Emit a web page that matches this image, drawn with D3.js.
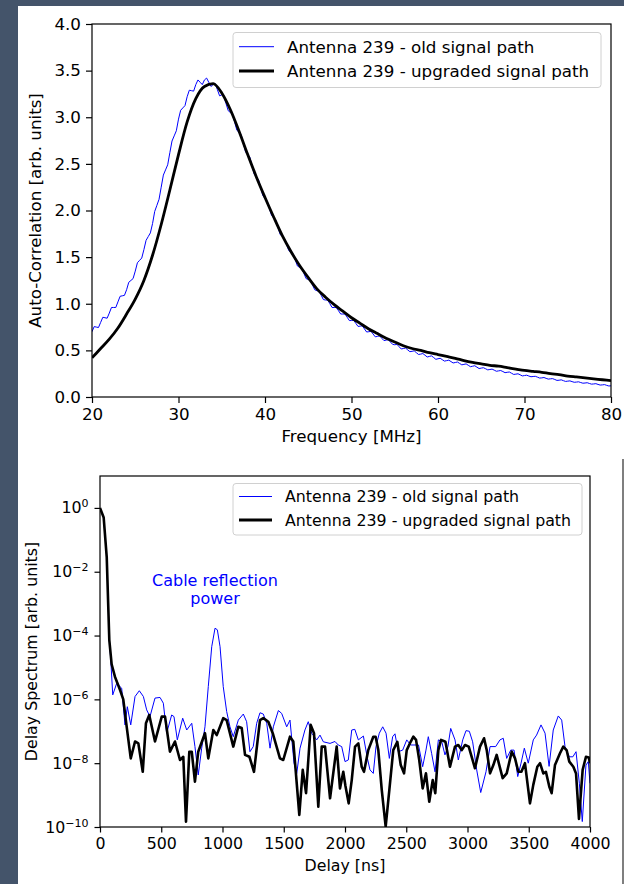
<!DOCTYPE html>
<html>
<head>
<meta charset="utf-8">
<script src="https://cdn.jsdelivr.net/npm/d3@7"></script>
<style>
  body { margin: 0; background: #44546a; }
  svg { display: block; font-family: "DejaVu Sans", sans-serif; }
</style>
</head>
<body>
<svg id="fig" width="624" height="884"></svg>
<script>
// ---- data: auto-correlation vs frequency ----
const seriesNames = ['Antenna 239 - old signal path', 'Antenna 239 - upgraded signal path'];
const freqTicks = [20, 30, 40, 50, 60, 70, 80];
const autoTicks = [0, 0.5, 1, 1.5, 2, 2.5, 3, 3.5, 4];

// old path sampled every 0.25 MHz from 20 to 80 MHz (ripples from the cable reflection)
const oldAuto = [
  0.70, 0.755, 0.75, 0.745, 0.80, 0.855, 0.85, 0.845, 0.90, 0.96, 0.96, 0.96,
  1.02, 1.08, 1.085, 1.09, 1.15, 1.23, 1.25, 1.27, 1.35, 1.44, 1.465, 1.49,
  1.58, 1.68, 1.72, 1.76, 1.86, 1.99, 2.055, 2.12, 2.25, 2.38, 2.435, 2.49,
  2.62, 2.745, 2.80, 2.855, 2.98, 3.075, 3.10, 3.125, 3.22, 3.29, 3.285, 3.28,
  3.35, 3.40, 3.375, 3.35, 3.40, 3.42, 3.375, 3.33, 3.35, 3.36, 3.295, 3.23,
  3.24, 3.22, 3.145, 3.07, 3.05, 3.03, 2.945, 2.86, 2.84, 2.81, 2.72, 2.63,
  2.60, 2.57, 2.48, 2.39, 2.36, 2.33, 2.245, 2.16, 2.13, 2.10, 2.025, 1.95,
  1.92, 1.895, 1.82, 1.745, 1.72, 1.70, 1.635, 1.57, 1.55, 1.535, 1.47, 1.405,
  1.39, 1.38, 1.325, 1.27, 1.26, 1.25, 1.20, 1.15, 1.14, 1.135, 1.09, 1.045,
  1.04, 1.04, 1.00, 0.96, 0.96, 0.96, 0.925, 0.89, 0.89, 0.89, 0.855, 0.82,
  0.82, 0.823, 0.79, 0.757, 0.76, 0.763, 0.73, 0.697, 0.70, 0.705, 0.675, 0.645,
  0.65, 0.655, 0.63, 0.605, 0.61, 0.615, 0.59, 0.565, 0.56, 0.565, 0.54, 0.515,
  0.52, 0.525, 0.505, 0.486, 0.49, 0.495, 0.475, 0.456, 0.46, 0.466, 0.448, 0.429,
  0.435, 0.441, 0.423, 0.404, 0.41, 0.415, 0.40, 0.385, 0.39, 0.395, 0.38, 0.365,
  0.37, 0.375, 0.36, 0.345, 0.35, 0.355, 0.34, 0.325, 0.33, 0.335, 0.32, 0.305,
  0.31, 0.314, 0.303, 0.291, 0.295, 0.299, 0.288, 0.276, 0.28, 0.284, 0.273, 0.261,
  0.265, 0.268, 0.255, 0.242, 0.245, 0.249, 0.238, 0.226, 0.23, 0.234, 0.225, 0.217,
  0.22, 0.222, 0.213, 0.203, 0.205, 0.209, 0.20, 0.192, 0.195, 0.197, 0.188, 0.178,
  0.18, 0.184, 0.175, 0.167, 0.17, 0.173, 0.165, 0.158, 0.16, 0.163, 0.155, 0.148,
  0.15, 0.153, 0.145, 0.138, 0.14, 0.143, 0.135, 0.128, 0.13, 0.133, 0.125, 0.118,
  0.12
];
const oldFreq = d3.range(0, oldAuto.length).map(i => 20 + i * 0.25);

// upgraded path sampled every 1 MHz from 20 to 80 MHz
const newAuto = [
  0.42, 0.52, 0.62, 0.74, 0.89, 1.05, 1.25, 1.52, 1.85, 2.22,
  2.60, 2.95, 3.20, 3.33, 3.36, 3.26, 3.08, 2.85, 2.60, 2.36,
  2.14, 1.93, 1.73, 1.56, 1.41, 1.28, 1.16, 1.07, 0.99, 0.92,
  0.85, 0.79, 0.73, 0.68, 0.63, 0.59, 0.55, 0.52, 0.50, 0.475,
  0.455, 0.435, 0.415, 0.39, 0.37, 0.355, 0.34, 0.33, 0.315, 0.30,
  0.285, 0.275, 0.265, 0.25, 0.24, 0.225, 0.215, 0.205, 0.195, 0.185,
  0.175
];
const newFreq = d3.range(0, newAuto.length).map(i => 20 + i);

// ---- data: delay spectrum, [delay ns, log10 power] ----
const delayTicks = [0, 500, 1000, 1500, 2000, 2500, 3000, 3500, 4000];
const powerTicks = [1e0, 1e-2, 1e-4, 1e-6, 1e-8, 1e-10];

const oldDelay = [
  [0, 0], [30, -0.3], [55, -1.55], [76, -4.14], [87, -4.7], [104, -5.86], [136, -5.5],
  [150, -5.55], [177, -5.65], [204, -6.8], [223, -6.23], [251, -6.8], [286, -5.91],
  [321, -5.73], [354, -5.91], [381, -6.33], [408, -6.54], [449, -5.96], [490, -5.94],
  [517, -6.12], [544, -7.06], [585, -6.49], [604, -6.54], [631, -7.27], [675, -6.59],
  [708, -6.96], [749, -6.75], [775, -7.48], [802, -8.37], [830, -7.53], [857, -6.86],
  [884, -5.6], [912, -4.35], [939, -3.77], [958, -3.82], [980, -4.35], [1006, -5.6],
  [1034, -6.38], [1061, -6.86], [1088, -7.17], [1129, -6.65], [1170, -6.46], [1197, -6.7],
  [1224, -7.64], [1251, -7.48], [1279, -6.75], [1306, -6.42], [1333, -6.46], [1361, -6.75],
  [1388, -7.53], [1415, -6.86], [1456, -6.35], [1483, -6.44], [1524, -6.86], [1551, -6.65],
  [1584, -8.0], [1606, -8.32], [1633, -7.53], [1673, -6.96], [1700, -6.7], [1728, -7.06],
  [1769, -7.27], [1796, -7.12], [1823, -7.33], [1878, -7.38], [1918, -7.32], [1945, -7.43],
  [1973, -7.48], [2000, -7.95], [2027, -7.9], [2055, -6.96], [2080, -6.94], [2109, -7.27],
  [2150, -7.15], [2183, -7.85], [2204, -8.21], [2231, -8.32], [2253, -7.48], [2280, -7.06],
  [2308, -6.86], [2335, -7.06], [2362, -7.85], [2389, -7.17], [2408, -7.08], [2435, -7.64],
  [2471, -7.59], [2504, -7.27], [2536, -7.43], [2563, -7.43], [2600, -7.43], [2634, -8.11],
  [2661, -7.59], [2680, -7.17], [2707, -7.69], [2735, -8.27], [2762, -7.27], [2790, -7.33],
  [2816, -7.74], [2840, -7.48], [2863, -6.91], [2898, -7.27], [2925, -7.9], [2961, -7.27],
  [2988, -6.98], [3015, -7.0], [3042, -7.33], [3075, -8.21], [3108, -8.92], [3151, -8.27],
  [3184, -7.48], [3230, -7.48], [3265, -7.27], [3292, -7.22], [3320, -7.85], [3353, -7.59],
  [3380, -7.59], [3410, -8.42], [3437, -8.0], [3464, -7.53], [3496, -8.0], [3537, -7.27],
  [3564, -7.12], [3600, -6.8], [3633, -7.06], [3666, -8.1], [3700, -6.96], [3741, -6.52],
  [3769, -6.65], [3796, -7.48], [3831, -7.8], [3860, -7.8], [3886, -7.64], [3913, -8.63],
  [3937, -9.83], [3967, -8.06], [3986, -7.95], [4000, -8.63]
];

const newDelay = [
  [0, 0], [30, -0.3], [55, -1.55], [76, -4.14], [95, -4.9], [122, -5.29], [163, -5.7],
  [190, -6.0], [218, -6.86], [251, -7.85], [286, -7.32], [313, -7.38], [349, -8.27],
  [375, -6.75], [402, -6.49], [449, -7.32], [504, -6.54], [531, -6.54], [571, -7.64],
  [612, -7.32], [653, -7.9], [680, -7.8], [702, -9.83], [729, -7.64], [749, -7.64],
  [775, -8.58], [802, -7.64], [857, -7.06], [884, -7.85], [925, -6.96], [953, -7.12],
  [1006, -6.59], [1034, -6.65], [1088, -7.48], [1129, -6.86], [1157, -6.9], [1184, -7.74],
  [1220, -7.8], [1257, -8.27], [1306, -6.65], [1333, -6.59], [1374, -6.7], [1410, -7.06],
  [1469, -7.85], [1496, -7.9], [1551, -7.17], [1578, -7.32], [1627, -9.62], [1655, -8.21],
  [1682, -8.94], [1720, -6.8], [1747, -7.06], [1782, -9.36], [1810, -7.48], [1837, -7.48],
  [1878, -9.1], [1932, -7.48], [1959, -8.79], [1986, -8.27], [2003, -8.7], [2030, -9.26],
  [2055, -8.53], [2082, -7.48], [2109, -7.38], [2136, -8.11], [2155, -8.27], [2190, -7.59],
  [2231, -7.17], [2250, -7.17], [2272, -7.59], [2300, -8.84], [2332, -9.99], [2362, -8.84],
  [2394, -7.59], [2427, -7.33], [2455, -8.06], [2482, -8.32], [2504, -7.59], [2536, -7.33],
  [2558, -7.17], [2580, -7.27], [2606, -7.9], [2634, -8.79], [2661, -8.32], [2688, -9.21],
  [2716, -8.53], [2737, -8.94], [2762, -7.59], [2784, -7.27], [2820, -7.33], [2857, -8.11],
  [2898, -7.48], [2925, -7.43], [2953, -7.59], [2980, -7.43], [3010, -7.48], [3061, -8.16],
  [3102, -7.48], [3135, -7.22], [3157, -7.59], [3184, -8.32], [3211, -8.06], [3238, -7.74],
  [3287, -8.47], [3320, -8.32], [3361, -7.64], [3388, -7.85], [3415, -8.27], [3440, -8.27],
  [3469, -8.0], [3510, -9.26], [3537, -8.68], [3570, -8.11], [3592, -8.0], [3619, -8.32],
  [3640, -8.27], [3668, -8.74], [3687, -8.94], [3714, -8.06], [3755, -7.69], [3782, -7.48],
  [3810, -7.6], [3831, -7.95], [3864, -8.11], [3886, -8.32], [3910, -9.75], [3940, -8.21],
  [3967, -7.8], [3990, -7.82], [4000, -8.0]
];

const oldColor = '#0000ff';
const newColor = '#000000';

const svg = d3.select('#fig');

// page background + white panel
svg.append('rect').attr('width', 624).attr('height', 884).attr('fill', '#44546a');
svg.append('rect').attr('x', 18).attr('y', 6).attr('width', 606).attr('height', 878).attr('fill', '#ffffff');
svg.append('line')
  .attr('x1', 623).attr('x2', 623).attr('y1', 459).attr('y2', 884)
  .attr('stroke', '#555').attr('stroke-width', 1.5);

// ---------- top chart ----------
const topP = { left: 92, right: 611, top: 24, bottom: 397, font: 16.7 };

const xTop = d3.scaleLinear().domain([20, 80]).range([topP.left, topP.right]);
const yTop = d3.scaleLinear().domain([0, 4]).range([topP.bottom, topP.top]);

svg.append('clipPath').attr('id', 'clipTop')
  .append('rect').attr('x', topP.left).attr('y', topP.top)
  .attr('width', topP.right - topP.left).attr('height', topP.bottom - topP.top);

const gTop = svg.append('g');

gTop.append('path')
  .datum(oldFreq.map((f, i) => [f, oldAuto[i]]))
  .attr('clip-path', 'url(#clipTop)')
  .attr('fill', 'none')
  .attr('stroke', oldColor)
  .attr('stroke-width', 1)
  .attr('d', d3.line().x(d => xTop(d[0])).y(d => yTop(d[1])));

gTop.append('path')
  .datum(newFreq.map((f, i) => [f, newAuto[i]]))
  .attr('clip-path', 'url(#clipTop)')
  .attr('fill', 'none')
  .attr('stroke', newColor)
  .attr('stroke-width', 2.8)
  .attr('stroke-linejoin', 'round')
  .attr('d', d3.line().curve(d3.curveMonotoneX).x(d => xTop(d[0])).y(d => yTop(d[1])));

const xAxisTop = gTop.append('g')
  .attr('transform', `translate(0,${topP.bottom})`)
  .call(d3.axisBottom(xTop).tickValues(freqTicks).tickFormat(d3.format('d'))
    .tickSize(6).tickSizeOuter(0).tickPadding(5));
const yAxisTop = gTop.append('g')
  .attr('transform', `translate(${topP.left},0)`)
  .call(d3.axisLeft(yTop).tickValues(autoTicks).tickFormat(d3.format('.1f'))
    .tickSize(6).tickSizeOuter(0).tickPadding(5));

[xAxisTop, yAxisTop].forEach(a => {
  a.select('.domain').remove();
  a.selectAll('.tick line').attr('stroke', '#000').attr('stroke-width', 1.2);
  a.selectAll('.tick text').attr('font-size', topP.font).attr('fill', '#000')
    .attr('font-family', '"DejaVu Sans", sans-serif');
});

gTop.append('rect')
  .attr('x', topP.left).attr('y', topP.top)
  .attr('width', topP.right - topP.left).attr('height', topP.bottom - topP.top)
  .attr('fill', 'none').attr('stroke', '#000').attr('stroke-width', 1.2);

gTop.append('text')
  .attr('x', (topP.left + topP.right) / 2).attr('y', 442)
  .attr('text-anchor', 'middle').attr('font-size', topP.font)
  .text('Frequency [MHz]');

gTop.append('text')
  .attr('transform', `translate(41,${(topP.top + topP.bottom) / 2}) rotate(-90)`)
  .attr('text-anchor', 'middle').attr('font-size', topP.font)
  .text('Auto-Correlation [arb. units]');

// ---------- bottom chart ----------
const botP = { left: 100, right: 590, top: 476, bottom: 827, font: 15.8 };

const xBot = d3.scaleLinear().domain([0, 4000]).range([botP.left, botP.right]);
const yBot = d3.scaleLog().domain([1e-10, 10]).range([botP.bottom, botP.top]);

svg.append('clipPath').attr('id', 'clipBot')
  .append('rect').attr('x', botP.left).attr('y', botP.top)
  .attr('width', botP.right - botP.left).attr('height', botP.bottom - botP.top);

const gBot = svg.append('g');

const delayLine = d3.line()
  .x(d => xBot(d[0]))
  .y(d => yBot(Math.pow(10, d[1])));

gBot.append('path')
  .datum(oldDelay)
  .attr('clip-path', 'url(#clipBot)')
  .attr('fill', 'none')
  .attr('stroke', oldColor)
  .attr('stroke-width', 1)
  .attr('d', delayLine);

gBot.append('path')
  .datum(newDelay)
  .attr('clip-path', 'url(#clipBot)')
  .attr('fill', 'none')
  .attr('stroke', newColor)
  .attr('stroke-width', 2.6)
  .attr('stroke-linejoin', 'round')
  .attr('d', delayLine);

const xAxisBot = gBot.append('g')
  .attr('transform', `translate(0,${botP.bottom})`)
  .call(d3.axisBottom(xBot).tickValues(delayTicks).tickFormat(d3.format('d'))
    .tickSize(5.5).tickSizeOuter(0).tickPadding(5));
const yAxisBot = gBot.append('g')
  .attr('transform', `translate(${botP.left},0)`)
  .call(d3.axisLeft(yBot).tickValues(powerTicks).tickFormat(() => '')
    .tickSize(5.5).tickSizeOuter(0).tickPadding(6));

[xAxisBot, yAxisBot].forEach(a => {
  a.select('.domain').remove();
  a.selectAll('.tick line').attr('stroke', '#000').attr('stroke-width', 1.2);
  a.selectAll('.tick text').attr('font-size', botP.font).attr('fill', '#000')
    .attr('font-family', '"DejaVu Sans", sans-serif');
});

// 10^n labels with superscript
yAxisBot.selectAll('.tick text').each(function (d) {
  const t = d3.select(this);
  const e = Math.round(Math.log10(d));
  t.append('tspan').text('10');
  t.append('tspan').attr('dy', -6).attr('font-size', 11)
    .text(e < 0 ? '\u2212' + (-e) : String(e));
});

gBot.append('rect')
  .attr('x', botP.left).attr('y', botP.top)
  .attr('width', botP.right - botP.left).attr('height', botP.bottom - botP.top)
  .attr('fill', 'none').attr('stroke', '#000').attr('stroke-width', 1.2);

gBot.append('text')
  .attr('x', (botP.left + botP.right) / 2).attr('y', 871)
  .attr('text-anchor', 'middle').attr('font-size', botP.font)
  .text('Delay [ns]');

gBot.append('text')
  .attr('transform', `translate(37,${(botP.top + botP.bottom) / 2}) rotate(-90)`)
  .attr('text-anchor', 'middle').attr('font-size', botP.font)
  .text('Delay Spectrum [arb. units]');

// annotation
const note = gBot.append('text')
  .attr('text-anchor', 'middle').attr('font-size', 16).attr('fill', oldColor);
note.append('tspan').attr('x', 215).attr('y', 586).text('Cable reflection');
note.append('tspan').attr('x', 215).attr('y', 604).text('power');

// ---------- legends ----------
function legend(g, box, lineX, rowsY, textX, fontSize) {
  g.append('rect')
    .attr('x', box.x).attr('y', box.y).attr('width', box.w).attr('height', box.h)
    .attr('rx', 3).attr('fill', '#fff').attr('fill-opacity', 0.8)
    .attr('stroke', '#d0d0d0').attr('stroke-width', 1);
  const items = [
    { name: seriesNames[0], color: oldColor, width: 1 },
    { name: seriesNames[1], color: newColor, width: 2.8 }
  ];
  const rows = g.selectAll('.leg-row').data(items).enter().append('g')
    .attr('class', 'leg-row')
    .attr('transform', (d, i) => `translate(0,${rowsY[i]})`);
  rows.append('line')
    .attr('x1', lineX[0]).attr('x2', lineX[1])
    .attr('stroke', d => d.color).attr('stroke-width', d => d.width);
  rows.append('text')
    .attr('x', textX).attr('dy', '0.35em').attr('font-size', fontSize)
    .text(d => d.name);
}

legend(svg.append('g'), { x: 233, y: 32.5, w: 368, h: 55 }, [239, 274], [46.7, 71], 287, topP.font);
legend(svg.append('g'), { x: 233, y: 483.5, w: 349, h: 51.5 }, [239, 272], [496.5, 520], 285, botP.font);
</script>
</body>
</html>
